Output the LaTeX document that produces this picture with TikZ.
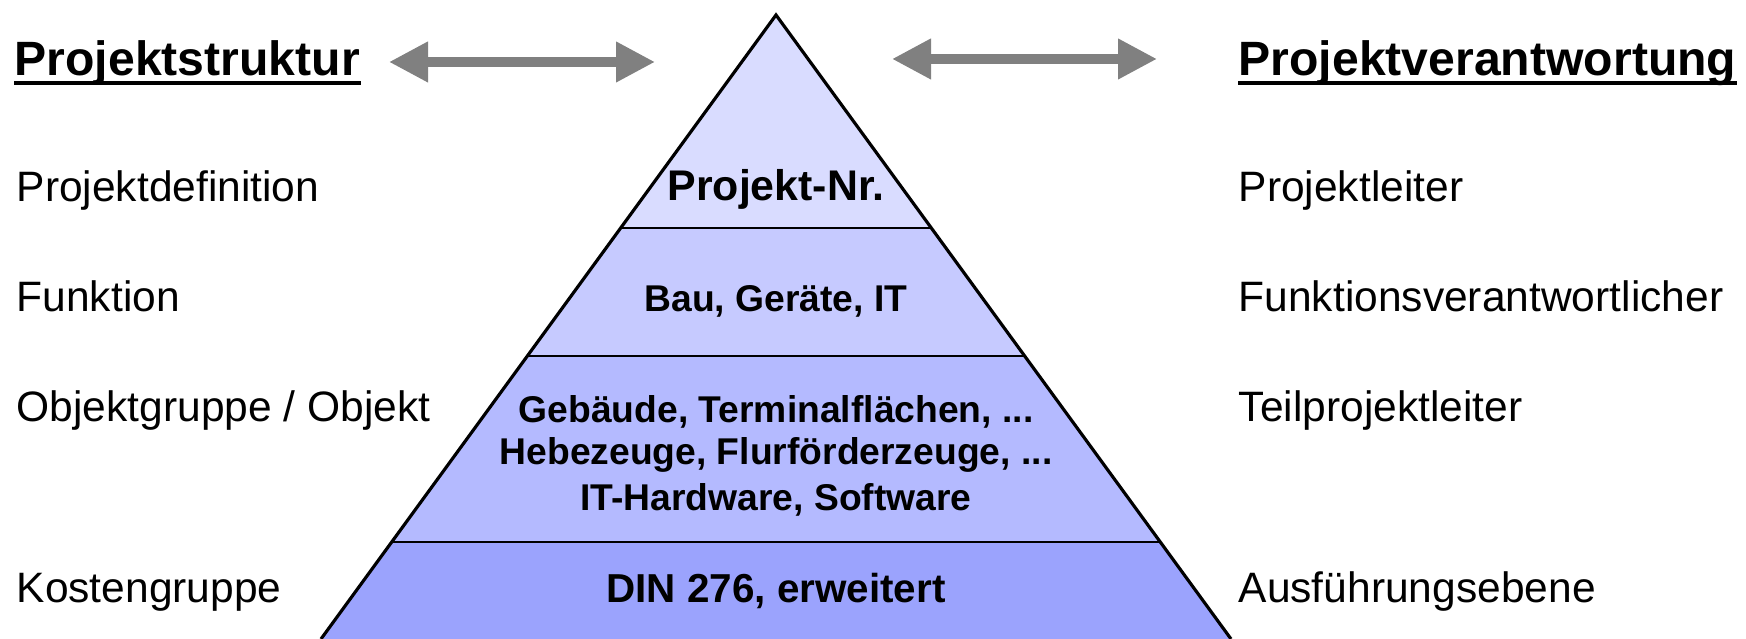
\documentclass[tikz,border=0pt]{standalone}
\usepackage{fontspec}
\setmainfont{Liberation Sans}
\usepackage{tikz}
\usetikzlibrary{calc,arrows.meta}

\begin{document}
\begin{tikzpicture}[line join=round,
  label/.style={inner sep=0pt, anchor=base west, font=\fontsize{12.1pt}{14pt}\selectfont},
  heading/.style={inner sep=0pt, anchor=base west, font=\bfseries\fontsize{13.7pt}{16pt}\selectfont},
  layer/.style={inner sep=0pt, anchor=base, font=\bfseries\fontsize{10.6pt}{12.5pt}\selectfont},
  uline/.style={line width=0.033cm},
  outline/.style={line width=0.9pt, line join=miter},
  sep/.style={line width=0.75pt},
  dblarrow/.style={line width=0.093cm, arrowgray, {Triangle[length=0.39cm,width=0.383cm]}-{Triangle[length=0.39cm,width=0.383cm]}}]

% Colors
\definecolor{band1}{RGB}{217,220,255}
\definecolor{band2}{RGB}{198,202,255}
\definecolor{band3}{RGB}{180,186,255}
\definecolor{band4}{RGB}{155,163,253}
\definecolor{arrowgray}{RGB}{128,128,128}

\useasboundingbox (0,0) rectangle (17.46,6.39);

% Pyramid corners and band edges
\coordinate (apex) at (7.76,6.24);
\coordinate (bl) at (3.21,0);
\coordinate (br) at (12.31,0);
\coordinate (l1) at (6.207,4.11);
\coordinate (r1) at (9.313,4.11);
\coordinate (l2) at (5.273,2.83);
\coordinate (r2) at (10.247,2.83);
\coordinate (l3) at (3.917,0.97);
\coordinate (r3) at (11.603,0.97);

% Bands
\fill[band1] (apex) -- (l1) -- (r1) -- cycle;
\fill[band2] (l1) -- (l2) -- (r2) -- (r1) -- cycle;
\fill[band3] (l2) -- (l3) -- (r3) -- (r2) -- cycle;
\fill[band4] (l3) -- (bl) -- (br) -- (r3) -- cycle;
\draw[sep] (l1) -- (r1);
\draw[sep] (l2) -- (r2);
\draw[sep] (l3) -- (r3);
\draw[outline] (bl) -- (apex) -- (br);

% Texts inside the pyramid
\node[layer, font=\bfseries\fontsize{12.2pt}{14pt}\selectfont] (pnr) at (7.76,4.38) {Projekt-Nr.};
\node[layer] (pbau) at (7.76,3.27) {Bau, Geräte, IT};
\node[layer] (pgeb) at (7.76,2.16) {Gebäude, Terminalflächen, ...};
\node[layer] (pheb) at (7.76,1.74) {Hebezeuge, Flurförderzeuge, ...};
\node[layer] (pit) at (7.76,1.28) {IT-Hardware, Software};
\node[layer, font=\bfseries\fontsize{11.5pt}{13pt}\selectfont] (pdin) at (7.76,0.36) {DIN 276, erweitert};

% Headings
\node[heading] (hstruktur) at (0.14,5.63) {Projektstruktur};
\node[heading] (hverantw) at (12.38,5.63) {Projektverantwortung};
\draw[uline] ([yshift=-0.07cm]hstruktur.base west) -- ([yshift=-0.07cm]hstruktur.base east);
\draw[uline] ([yshift=-0.07cm]hverantw.base west) -- ([yshift=-0.07cm]hverantw.base east);

% Double arrows
\coordinate (la1) at (3.89,5.77);
\coordinate (la2) at (6.55,5.77);
\coordinate (ra1) at (8.92,5.80);
\coordinate (ra2) at (11.57,5.80);
\draw[dblarrow] (la1) -- (la2);
\draw[dblarrow] (ra1) -- (ra2);

% Left column
\node[label] (ldef) at (0.16,4.37) {Projektdefinition};
\node[label] (lfunk) at (0.16,3.27) {Funktion};
\node[label] (lobj) at (0.16,2.17) {Objektgruppe / Objekt};
\node[label] (lkost) at (0.16,0.36) {Kostengruppe};

% Right column
\node[label] (rleiter) at (12.38,4.37) {Projektleiter};
\node[label] (rfunk) at (12.38,3.27) {Funktionsverantwortlicher};
\node[label] (rteil) at (12.38,2.17) {Teilprojektleiter};
\node[label] (rausf) at (12.38,0.36) {Ausführungsebene};
\end{tikzpicture}
\end{document}
